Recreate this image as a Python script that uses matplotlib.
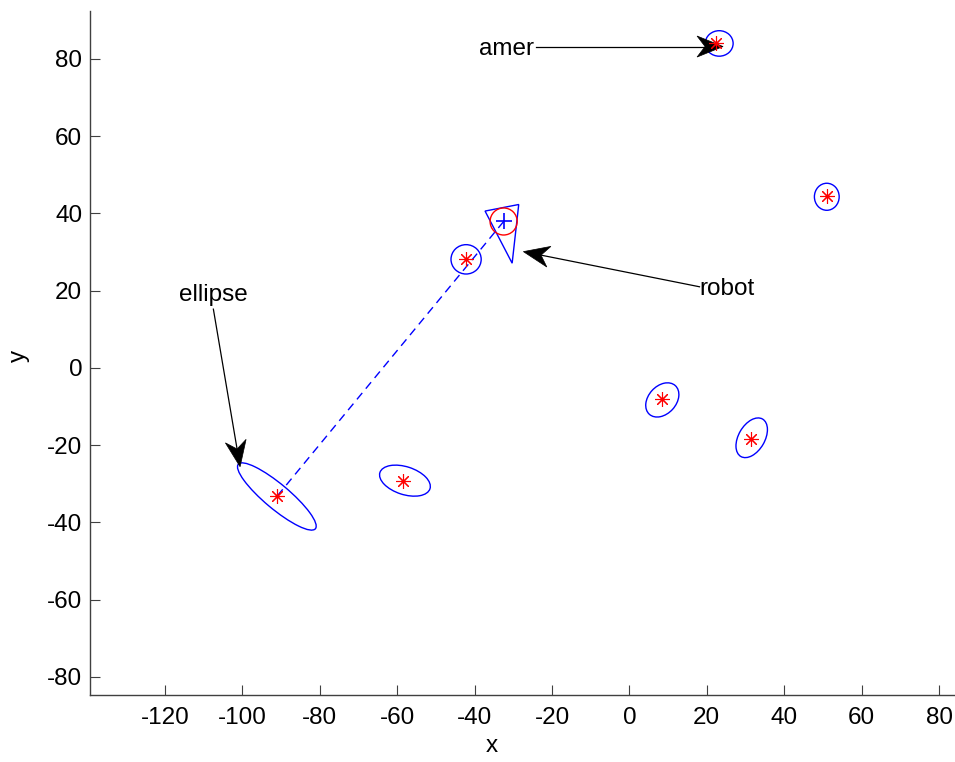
import numpy as np
import matplotlib
matplotlib.use("Agg")
import matplotlib.pyplot as plt
from matplotlib.patches import Ellipse, Polygon
from matplotlib.lines import Line2D
from matplotlib.transforms import IdentityTransform

plt.rcParams['font.family'] = ['Liberation Sans', 'DejaVu Sans']
plt.rcParams['axes.unicode_minus'] = False

# ---- data ----
lm_x = [22.4, 51.0, -42.2, -91.1, -58.4, 8.35, 31.3]
lm_y = [84.2, 44.5, 28.1, -33.3, -29.4, -8.1, -18.4]
# uncertainty ellipses: semi-axes and orientation (deg)
ell_cx = [23.2, 51.0, -42.2, -91.1, -58.0, 8.5, 31.6]
ell_cy = [84.0, 44.3, 28.1, -33.3, -29.2, -8.3, -18.1]
ell_a = [3.6, 3.5, 3.9, 13.0, 6.8, 5.0, 5.6]
ell_b = [3.3, 3.2, 3.8, 3.2, 3.6, 3.6, 3.4]
ell_ang = [0, 90, 0, -40, -18, 48, 60]

robot_x, robot_y = -32.5, 37.9
robot_r = 3.5
tri_x = [-37.3, -28.6, -30.3]
tri_y = [40.6, 42.3, 27.1]

# observation line robot -> landmark
obs_x = [-32.5, -91.1]
obs_y = [37.9, -33.3]

# annotations: label, tail(x,y), tip(x,y)
ann_labels = ["amer", "robot", "ellipse"]
ann_tail = [(-24.1, 83.2), (18.1, 21.0), (-107.5, 15.2)]
ann_tip = [(24.2, 83.2), (-27.4, 30.1), (-100.6, -25.6)]
ann_text_pos = [(-24.6, 81.0), (18.0, 18.9), (-107.4, 17.2)]
ann_ha = ["right", "left", "center"]

xticks = [-120, -100, -80, -60, -40, -20, 0, 20, 40, 60, 80]
yticks = [-80, -60, -40, -20, 0, 20, 40, 60, 80]

W, H = 955, 762
fig = plt.figure(figsize=(W/100, H/100), dpi=100)
ax = fig.add_axes([90/W, (H-695)/H, (W-90)/W, (695-11)/H])
ax.set_xlim(-139.38, 84.13)
ax.set_ylim(-84.7, 92.4)

# observation line
ax.plot(obs_x, obs_y, color='#0000ff', lw=1.0, dashes=(6, 4))

# ellipses
for x, y, a, b, ang in zip(ell_cx, ell_cy, ell_a, ell_b, ell_ang):
    ax.add_patch(Ellipse((x, y), 2*a, 2*b, angle=ang, fill=False,
                         ec='#0000ff', lw=1.0))

# landmarks
ax.plot(lm_x, lm_y, ls='none', marker=(8, 2, 0), ms=10.5, mec='#ff0000',
        mew=0.8)

# robot
ax.add_patch(Polygon(list(zip(tri_x, tri_y)), closed=True, fill=False,
                     ec='#0000ff', lw=1.0))
ax.add_patch(Ellipse((robot_x, robot_y), 2*robot_r, 2*robot_r, fill=False,
                     ec='#ff0000', lw=1.0))
ax.plot([robot_x], [robot_y], ls='none', marker='+', ms=11, mec='#0000ff',
        mew=1.2)

# arrows
def draw_arrow(tail, tip):
    t0 = ax.transData.transform(tail)
    t1 = ax.transData.transform(tip)
    d = t1 - t0
    u = d / np.hypot(*d)
    n = np.array([-u[1], u[0]])
    HL, HW, NOTCH = 26, 21, 8
    back = t1 - HL*u
    notch = t1 - (HL - NOTCH)*u
    pts = [t1, back + HW/2*n, notch, back - HW/2*n]
    ax.add_patch(Polygon(pts, closed=True, transform=IdentityTransform(),
                         fc='k', ec='k', lw=0.5, clip_on=False))
    ax.add_line(Line2D([t0[0], notch[0]], [t0[1], notch[1]],
                       transform=IdentityTransform(), color='k', lw=0.9))

for lab, tail, tip, tp, ha in zip(ann_labels, ann_tail, ann_tip,
                                  ann_text_pos, ann_ha):
    draw_arrow(tail, tip)
    ax.text(tp[0], tp[1], lab, ha=ha, va='baseline', fontsize=17.5)

# axes styling
for s in ['top', 'right']:
    ax.spines[s].set_visible(False)
for s in ['left', 'bottom']:
    ax.spines[s].set_color('#404040')
    ax.spines[s].set_linewidth(1.0)
ax.set_xticks(xticks)
ax.set_yticks(yticks)
ax.tick_params(axis='both', direction='in', length=7, width=0.8,
               color='#404040', labelsize=17.5)
ax.tick_params(axis='x', pad=9)
ax.tick_params(axis='y', pad=5.5)
ax.set_xlabel('x', fontsize=17.5)
ax.set_ylabel('y', fontsize=17.5)
ax.xaxis.set_label_coords(0.4647, -0.059)
ax.yaxis.set_label_coords(-0.069, 0.4956)

fig.savefig('out.png', dpi=100)
